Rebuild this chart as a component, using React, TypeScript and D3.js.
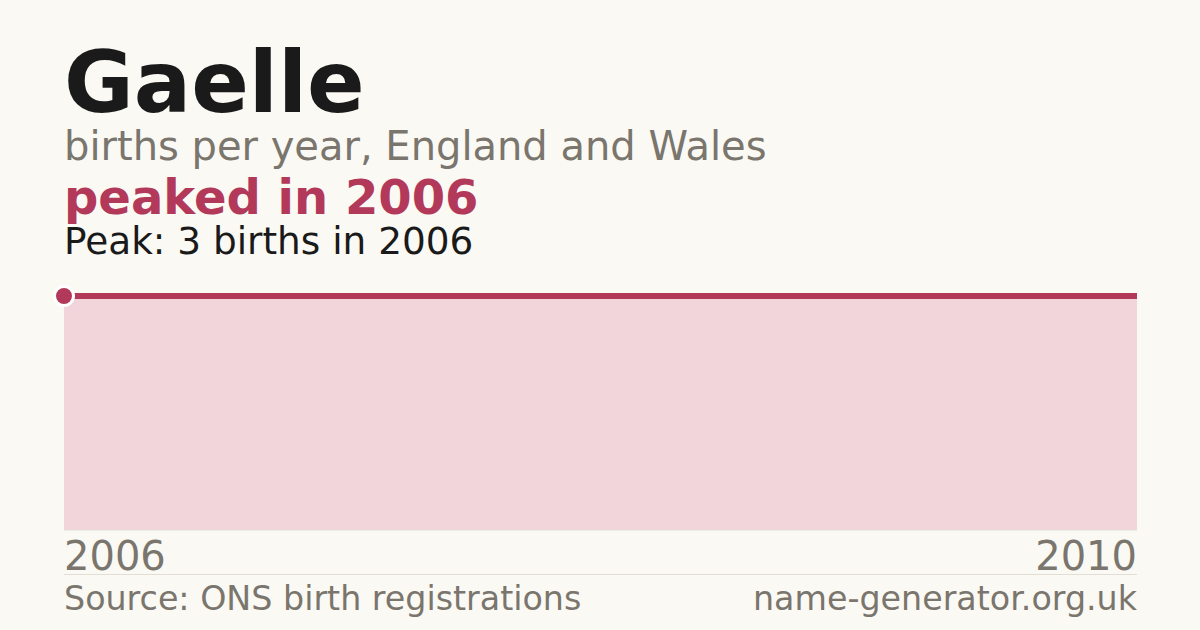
import React, { useRef, useEffect } from "react";
import * as d3 from "d3";

const years = [2006, 2007, 2008, 2009, 2010];
const births = [3, 3, 3, 3, 3];
const tickLabels = ["2006", "2010"];

const W = 1200;
const H = 630;
const margin = { left: 64, right: 63, top: 296, bottom: 100 };

const App: React.FC = () => {
  const svgRef = useRef<SVGSVGElement>(null);

  useEffect(() => {
    const svg = d3.select(svgRef.current);
    svg.selectAll("*").remove();

    const font = "'DejaVu Sans', sans-serif";
    const red = "#b3395a";
    const grey = "#7a756d";

    svg.append("rect").attr("width", W).attr("height", H).attr("fill", "#faf9f4");

    const x = d3
      .scaleLinear()
      .domain([years[0], years[years.length - 1]])
      .range([margin.left, W - margin.right]);
    const y = d3
      .scaleLinear()
      .domain([0, d3.max(births) || 0])
      .range([H - margin.bottom, margin.top]);

    const data = years.map((yr, i) => ({ yr, v: births[i] }));

    // area
    const area = d3
      .area<{ yr: number; v: number }>()
      .x((d) => x(d.yr))
      .y0(y(0))
      .y1((d) => y(d.v));
    svg.append("path").datum(data).attr("d", area).attr("fill", "#f1d5da");

    // baseline
    svg
      .append("line")
      .attr("x1", x(years[0]))
      .attr("x2", x(years[years.length - 1]))
      .attr("y1", y(0))
      .attr("y2", y(0))
      .attr("stroke", "#e2ded5")
      .attr("stroke-width", 1);

    const line = d3
      .line<{ yr: number; v: number }>()
      .x((d) => x(d.yr))
      .y((d) => y(d.v));
    svg
      .append("path")
      .datum(data)
      .attr("d", line)
      .attr("fill", "none")
      .attr("stroke", red)
      .attr("stroke-width", 6);

    // peak marker
    const peakIdx = d3.maxIndex(births);
    svg
      .append("circle")
      .attr("cx", x(years[peakIdx]))
      .attr("cy", y(births[peakIdx]))
      .attr("r", 9.5)
      .attr("fill", red)
      .attr("stroke", "#ffffff")
      .attr("stroke-width", 3);

    // titles
    svg
      .append("text")
      .attr("x", 64)
      .attr("y", 112)
      .attr("font-family", font)
      .attr("font-weight", "bold")
      .attr("font-size", 85)
      .attr("fill", "#1a1a1a")
      .text("Gaelle");
    svg
      .append("text")
      .attr("x", 64)
      .attr("y", 160)
      .attr("font-family", font)
      .attr("font-size", 40)
      .attr("fill", grey)
      .text("births per year, England and Wales");
    svg
      .append("text")
      .attr("x", 64)
      .attr("y", 214)
      .attr("font-family", font)
      .attr("font-weight", "bold")
      .attr("font-size", 48)
      .attr("fill", red)
      .text(`peaked in ${years[peakIdx]}`);
    svg
      .append("text")
      .attr("x", 64)
      .attr("y", 254)
      .attr("font-family", font)
      .attr("font-size", 37.4)
      .attr("fill", "#1a1a1a")
      .text(`Peak: ${births[peakIdx]} births in ${years[peakIdx]}`);

    // x tick labels
    svg
      .append("text")
      .attr("x", x(+tickLabels[0]))
      .attr("y", 570)
      .attr("font-family", font)
      .attr("font-size", 40)
      .attr("fill", grey)
      .text(tickLabels[0]);
    svg
      .append("text")
      .attr("x", x(+tickLabels[1]))
      .attr("y", 570)
      .attr("text-anchor", "end")
      .attr("font-family", font)
      .attr("font-size", 40)
      .attr("fill", grey)
      .text(tickLabels[1]);

    // footer
    svg
      .append("line")
      .attr("x1", 64)
      .attr("x2", W - margin.right)
      .attr("y1", 574.5)
      .attr("y2", 574.5)
      .attr("stroke", "#e2ded5")
      .attr("stroke-width", 1);
    svg
      .append("text")
      .attr("x", 64)
      .attr("y", 610)
      .attr("font-family", font)
      .attr("font-size", 33.3)
      .attr("fill", grey)
      .text("Source: ONS birth registrations");
    svg
      .append("text")
      .attr("x", W - margin.right)
      .attr("y", 610)
      .attr("text-anchor", "end")
      .attr("font-family", font)
      .attr("font-size", 33.3)
      .attr("fill", grey)
      .text("name-generator.org.uk");
  }, []);

  return (
    <div style={{ position: "absolute", left: 0, top: 0 }}>
      <svg ref={svgRef} width={W} height={H} style={{ display: "block" }} />
    </div>
  );
};

export default App;
